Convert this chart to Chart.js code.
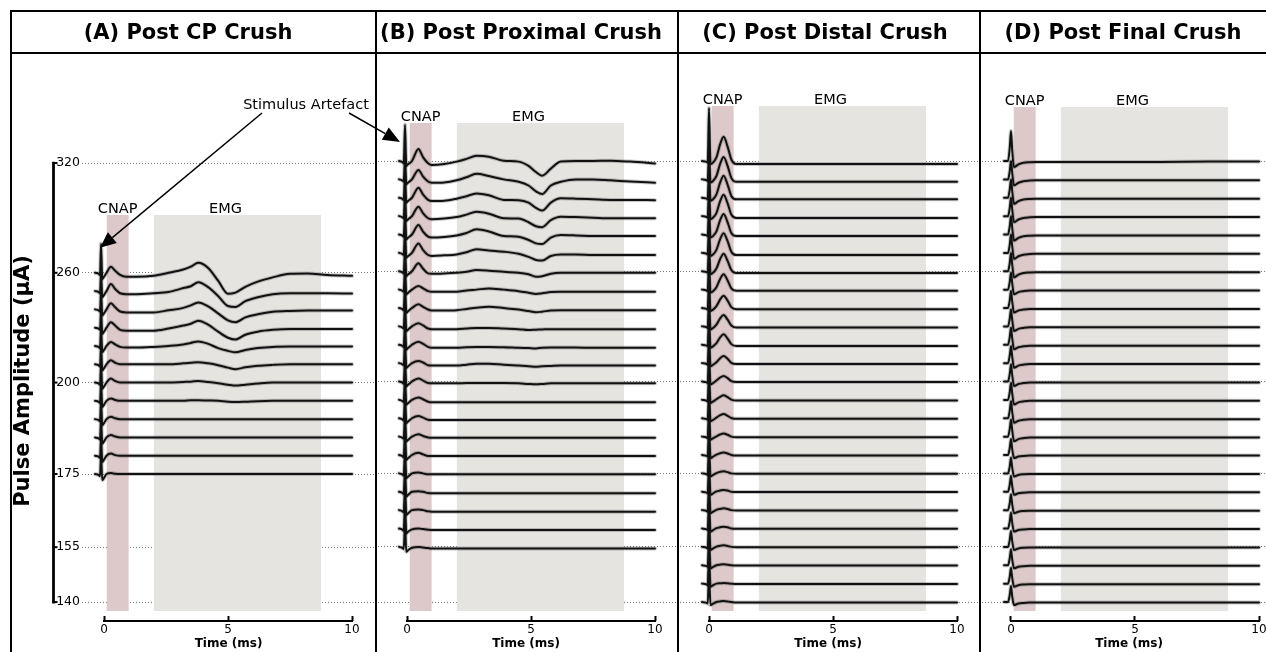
<!DOCTYPE html>
<html><head><meta charset="utf-8">
<script src="https://cdn.jsdelivr.net/npm/chart.js@4.4.1/dist/chart.umd.min.js"></script>
<style>
html,body{margin:0;padding:0;background:#fff;}
body{width:1266px;height:652px;overflow:hidden;position:relative;font-family:'DejaVu Sans';}
canvas{position:absolute;display:block;}
.hl{position:absolute;height:2px;background:#000;z-index:5;}
.vl{position:absolute;width:2px;background:#000;z-index:5;}
.ttl{position:absolute;top:10px;height:43px;width:400px;font:bold 21px 'DejaVu Sans';line-height:44px;text-align:center;color:#000;z-index:6;white-space:nowrap;}
#ylab{position:absolute;left:22px;top:381px;transform:translate(-50%,-50%) rotate(-90deg);font:bold 21px 'DejaVu Sans';white-space:nowrap;color:#000;z-index:6;}
</style></head>
<body>
<canvas id="cA" width="365" height="599" style="left:10px;top:53px"></canvas>
<canvas id="cB" width="302" height="599" style="left:375px;top:53px"></canvas>
<canvas id="cC" width="302" height="599" style="left:677px;top:53px"></canvas>
<canvas id="cD" width="300" height="599" style="left:979px;top:53px"></canvas>
<canvas id="ov" width="1266" height="652" style="left:0;top:0;z-index:4;pointer-events:none"></canvas>
<div class="hl" style="left:10px;top:10px;width:1270px"></div>
<div class="hl" style="left:10px;top:52px;width:1270px"></div>
<div class="vl" style="left:10px;top:10px;height:650px"></div>
<div class="vl" style="left:375px;top:10px;height:650px"></div>
<div class="vl" style="left:677px;top:10px;height:650px"></div>
<div class="vl" style="left:979px;top:10px;height:650px"></div>
<div class="ttl" style="left:-12px">(A) Post CP Crush</div>
<div class="ttl" style="left:321px">(B) Post Proximal Crush</div>
<div class="ttl" style="left:625px">(C) Post Distal Crush</div>
<div class="ttl" style="left:923px">(D) Post Final Crush</div>
<div id="ylab">Pulse Amplitude (µA)</div>
<script>
// ---------------- DATA ----------------
// all stimulation pulse amplitudes (µA); traces are stacked one step apart
const amps = [140,145,150,155,160,165,170,175,180,185,190,195,200,210,220,230,240,250,260,270,280,290,300,310,320];
const STEP = 60; // µV between stacked traces
const yTickAmps = [140,155,175,200,260,320];
const yTickLabels = ['140','155','175','200','260','320'];
const xTicks = [0,5,10];
const cnapWindow = [0.1, 1.0];   // ms
const emgWindow = [2.0, 8.75];   // ms
const shadeBottom = -29;
const shadeTop = {A:1270, B:1564, C:1620, D:1616};
const cnapLabelT = 0.55, emgLabelT = 4.9;

// Panel A: Post CP Crush
const ampsA = [260,250,240,230,220,210,200,195,190,185,180,175];
const timeA = [-0.36,-0.22,-0.16,-0.12,-0.07,0.0,0.1,0.28,0.45,0.65,0.9,1.3,2.0,2.6,3.2,3.5,3.8,4.2,4.6,5.0,5.3,5.7,6.2,6.8,7.5,8.2,9.0,10.0];
const tracesA = [
 [0,-3,-7,95,-20,-13,0,20,7,-7,-13,-13,-10,0,11,20,33,16,-26,-69,-65,-46,-29,-15,-3,-2,-7,-10],
 [0,-3,-7,65,-20,-13,0,23,7,-7,-10,-10,-7,-3,10,16,29,13,-16,-49,-52,-33,-20,-10,-7,-7,-7,-8],
 [0,-3,-7,65,-20,-13,0,20,7,-7,-10,-10,-10,-3,5,13,23,10,-13,-36,-42,-26,-16,-8,-5,-4,-4,-4],
 [0,-3,-7,65,-20,-13,0,18,7,-7,-10,-10,-10,-3,7,13,23,10,-13,-33,-39,-23,-13,-7,-4,-4,-4,-4],
 [0,-3,-7,65,-20,-13,0,13,5,-3,-5,-5,-3,0,5,10,15,7,-7,-16,-21,-13,-7,-3,-2,-2,-2,-2],
 [0,-3,-7,65,-20,-13,0,13,5,0,0,0,0,0,3,5,7,3,-3,-11,-16,-10,-5,-2,0,0,0,0],
 [0,-3,-7,65,-20,-13,0,13,5,0,0,0,0,0,2,3,5,2,-2,-7,-10,-7,-3,0,0,0,0,0],
 [0,-3,-7,65,-20,-13,0,8,3,0,0,0,0,0,0,2,2,1,0,-3,-4,-3,-1,0,0,0,0,0],
 [0,-3,-7,65,-20,-13,0,8,3,0,0,0,0,0,0,0,0,0,0,0,0,0,0,0,0,0,0,0],
 [0,-3,-7,65,-20,-13,0,8,3,0,0,0,0,0,0,0,0,0,0,0,0,0,0,0,0,0,0,0],
 [0,-3,-7,65,-20,-13,0,7,2,0,0,0,0,0,0,0,0,0,0,0,0,0,0,0,0,0,0,0],
 [0,-3,-7,65,-20,-13,0,3,1,0,0,0,0,0,0,0,0,0,0,0,0,0,0,0,0,0,0,0]
];

// Panel B: Post Proximal Crush
const ampsB = [320,310,300,290,280,270,260,250,240,230,220,210,200,195,190,185,180,175,170,165,160,155];
const timeB = [-0.32,-0.2,-0.13,-0.08,-0.03,0.05,0.2,0.46,0.65,0.85,1.0,1.5,2.0,2.4,2.8,3.3,3.9,4.5,4.9,5.2,5.45,5.8,6.2,6.8,7.5,8.2,9.0,10.0];
const tracesB = [
 [0,-3,-7,118,-16,-10,0,39,12,-7,-13,-10,-2,7,17,14,1,-2,-16,-36,-48,-25,-2,0,0,1,-2,-8],
 [0,-3,-7,82,-16,-10,0,31,9,-7,-11,-10,-3,7,18,11,0,-8,-20,-39,-48,-20,-8,0,0,-3,-7,-11],
 [0,-3,-7,82,-16,-10,0,33,10,-7,-11,-10,-3,5,14,8,-7,-8,-16,-33,-42,-16,-2,-3,-5,-7,-7,-8],
 [0,-3,-7,82,-16,-10,0,31,9,-7,-10,-8,-3,5,14,8,-7,-8,-20,-33,-36,-13,-2,-3,-5,-7,-7,-7],
 [0,-3,-7,82,-16,-10,0,31,9,-7,-10,-8,-3,5,17,10,-5,-7,-18,-29,-31,-10,-2,-3,-5,-5,-5,-5],
 [0,-3,-7,82,-16,-10,0,31,9,-7,-10,-8,-5,2,12,8,4,-3,-13,-23,-25,-10,-5,-5,-7,-7,-7,-7],
 [0,-3,-7,82,-16,-10,0,26,8,-7,-8,-7,-5,-2,4,2,-2,-5,-10,-18,-16,-8,-5,-5,-5,-5,-5,-5],
 [0,-3,-7,82,-16,-10,0,12,4,-5,-7,-7,-7,-3,0,4,0,-5,-10,-14,-12,-8,-7,-7,-7,-7,-7,-7],
 [0,-3,-7,82,-16,-10,0,12,4,-5,-8,-8,-7,-3,1,4,0,-5,-10,-14,-12,-8,-7,-7,-7,-7,-7,-7],
 [0,-3,-7,82,-16,-10,0,10,3,-7,-9,-9,-9,-7,-5,-5,-7,-9,-12,-11,-10,-9,-9,-9,-9,-9,-9,-9],
 [0,-3,-7,82,-16,-10,0,10,3,-7,-10,-10,-10,-8,-7,-7,-8,-10,-11,-12,-10,-9,-9,-9,-10,-10,-10,-10],
 [0,-3,-7,82,-16,-10,0,7,2,-7,-8,-8,-8,-5,-2,-2,-5,-8,-10,-12,-10,-9,-8,-8,-8,-8,-8,-8],
 [0,-3,-7,82,-16,-10,0,10,3,-5,-6,-6,-6,-5,-5,-5,-5,-6,-8,-9,-8,-6,-6,-6,-6,-6,-6,-6],
 [0,-3,-7,82,-16,-10,0,8,2,-6,-8,-8,-8,-8,-8,-8,-8,-8,-8,-8,-8,-8,-8,-8,-8,-8,-8,-8],
 [0,-3,-7,82,-16,-10,0,7,2,-5,-6,-6,-6,-6,-6,-6,-6,-6,-6,-6,-6,-6,-6,-6,-6,-6,-6,-6],
 [0,-3,-7,82,-16,-10,0,8,2,-3,-4,-4,-4,-4,-4,-4,-4,-4,-4,-4,-4,-4,-4,-4,-4,-4,-4,-4],
 [0,-3,-7,82,-16,-10,0,7,2,-3,-3,-3,-3,-3,-3,-3,-3,-3,-3,-3,-3,-3,-3,-3,-3,-3,-3,-3],
 [0,-3,-7,82,-16,-10,0,3,0,-3,-3,-3,-3,-3,-3,-3,-3,-3,-3,-3,-3,-3,-3,-3,-3,-3,-3,-3],
 [0,-3,-7,82,-16,-10,0,2,0,-4,-5,-5,-5,-5,-5,-5,-5,-5,-5,-5,-5,-5,-5,-5,-5,-5,-5,-5],
 [0,-3,-7,82,-16,-10,0,2,0,-4,-5,-5,-5,-5,-5,-5,-5,-5,-5,-5,-5,-5,-5,-5,-5,-5,-5,-5],
 [0,-3,-7,82,-16,-10,-3,0,-2,-4,-5,-5,-5,-5,-5,-5,-5,-5,-5,-5,-5,-5,-5,-5,-5,-5,-5,-5],
 [0,-3,-7,82,-16,-10,-3,0,-2,-4,-5,-5,-5,-5,-5,-5,-5,-5,-5,-5,-5,-5,-5,-5,-5,-5,-5,-5]
];

// Panel C: Post Distal Crush
const ampsC = [320,310,300,290,280,270,260,250,240,230,220,210,200,195,190,185,180,175,170,165,160,155,150,145,140];
const timeC = [-0.28,-0.12,-0.05,0.0,0.06,0.15,0.3,0.45,0.59,0.75,0.9,1.1,1.4,2.0,4.0,6.0,8.0,10.0];
const tracesC = [
 [0,-2,-5,173,-10,-6,12,55,79,47,5,-10,-10,-10,-10,-10,-10,-10],
 [0,-2,-5,98,-10,-6,11,51,73,44,5,-8,-8,-8,-8,-8,-8,-8],
 [0,-2,-5,98,-10,-6,11,50,72,43,6,-5,-5,-5,-5,-5,-5,-5],
 [0,-2,-5,98,-10,-6,10,49,70,42,5,-6,-6,-6,-6,-6,-6,-6],
 [0,-2,-5,98,-10,-6,10,47,67,40,5,-5,-5,-5,-5,-5,-5,-5],
 [0,-2,-5,98,-10,-6,10,45,64,38,4,-7,-7,-7,-7,-7,-7,-7],
 [0,-2,-5,98,-10,-6,9,40,57,34,4,-6,-6,-6,-6,-6,-6,-6],
 [0,-2,-5,98,-10,-6,8,35,50,30,4,-4,-4,-4,-4,-4,-4,-4],
 [0,-2,-5,98,-10,-6,6,28,40,24,3,-4,-4,-4,-4,-4,-4,-4],
 [0,-2,-5,98,-10,-6,6,26,37,22,3,-4,-4,-4,-4,-4,-4,-4],
 [0,-2,-5,98,-10,-6,5,24,34,20,2,-4,-4,-4,-4,-4,-4,-4],
 [0,-2,-5,98,-10,-6,3,16,23,14,1,-3,-3,-3,-3,-3,-3,-3],
 [0,-2,-5,98,-10,-6,3,13,18,11,1,-2,-2,-2,-2,-2,-2,-2],
 [0,-2,-5,98,-10,-6,2,10,15,9,1,-2,-2,-2,-2,-2,-2,-2],
 [0,-2,-5,98,-10,-6,2,10,14,8,1,-2,-2,-2,-2,-2,-2,-2],
 [0,-2,-5,98,-10,-6,1,7,10,6,0,-2,-2,-2,-2,-2,-2,-2],
 [0,-2,-5,98,-10,-6,1,6,8,5,0,-2,-2,-2,-2,-2,-2,-2],
 [0,-2,-5,98,-10,-6,1,5,7,4,0,-1,-1,-1,-1,-1,-1,-1],
 [0,-2,-5,98,-10,-6,1,4,6,4,0,-1,-1,-1,-1,-1,-1,-1],
 [0,-2,-5,98,-10,-6,1,4,6,4,0,-1,-1,-1,-1,-1,-1,-1],
 [0,-2,-5,98,-10,-6,1,4,6,4,0,-1,-1,-1,-1,-1,-1,-1],
 [0,-2,-5,98,-10,-6,1,4,5,3,0,-1,-1,-1,-1,-1,-1,-1],
 [0,-2,-5,98,-10,-6,0,2,3,2,0,-1,-1,-1,-1,-1,-1,-1],
 [0,-2,-5,98,-10,-6,0,1,2,1,0,-1,-1,-1,-1,-1,-1,-1],
 [0,-2,-5,98,-10,-6,0,2,3,2,0,-2,-2,-2,-2,-2,-2,-2]
];

// Panel D: Post Final Crush
const ampsD = [320,310,300,290,280,270,260,250,240,230,220,210,200,195,190,185,180,175,170,165,160,155,150,145,140];
const timeD = [-0.28,-0.12,-0.05,0.0,0.05,0.12,0.3,0.5,0.75,1.0,1.4,2.0,4.0,6.0,8.0,10.0];
const tracesD = [
 [0,0,44,98,34,-20,-11,-6,-4,-3,-3,-3,-3,-3,-2,-2],
 [0,0,27,60,21,-20,-11,-6,-4,-3,-3,-3,-3,-3,-3,-3],
 [0,0,27,60,21,-20,-11,-6,-4,-3,-3,-3,-3,-3,-3,-3],
 [0,0,27,60,21,-20,-11,-6,-4,-3,-3,-3,-3,-3,-3,-3],
 [0,0,27,60,21,-20,-11,-6,-4,-3,-3,-3,-3,-3,-3,-3],
 [0,0,27,60,21,-20,-11,-6,-4,-3,-3,-3,-3,-3,-3,-3],
 [0,0,27,60,21,-20,-11,-6,-4,-3,-3,-3,-3,-3,-3,-3],
 [0,0,25,56,20,-15,-8,-5,-3,-3,-3,-3,-3,-3,-3,-3],
 [0,0,25,56,20,-15,-8,-5,-3,-3,-3,-3,-3,-3,-3,-3],
 [0,0,25,56,20,-15,-8,-5,-3,-3,-3,-3,-3,-3,-3,-3],
 [0,0,25,56,20,-15,-8,-5,-3,-3,-3,-3,-3,-3,-3,-3],
 [0,0,25,56,20,-15,-8,-5,-3,-3,-3,-3,-3,-3,-3,-3],
 [0,0,25,56,20,-15,-8,-5,-3,-3,-3,-3,-3,-3,-3,-3],
 [0,0,25,56,20,-15,-8,-5,-3,-3,-3,-3,-3,-3,-3,-3],
 [0,0,25,56,20,-15,-8,-5,-3,-3,-3,-3,-3,-3,-3,-3],
 [0,0,25,56,20,-15,-8,-5,-3,-3,-3,-3,-3,-3,-3,-3],
 [0,0,23,52,18,-10,-5,-3,-2,-2,-2,-2,-2,-2,-2,-2],
 [0,0,23,52,18,-10,-5,-3,-2,-2,-2,-2,-2,-2,-2,-2],
 [0,0,23,52,18,-10,-5,-3,-2,-2,-2,-2,-2,-2,-2,-2],
 [0,0,23,52,18,-10,-5,-3,-2,-2,-2,-2,-2,-2,-2,-2],
 [0,0,23,52,18,-10,-5,-3,-2,-2,-2,-2,-2,-2,-2,-2],
 [0,0,23,52,18,-10,-5,-3,-2,-2,-2,-2,-2,-2,-2,-2],
 [0,0,23,52,18,-10,-5,-3,-2,-2,-2,-2,-2,-2,-2,-2],
 [0,0,23,52,18,-10,-5,-3,-2,-2,-2,-2,-2,-2,-2,-2],
 [0,0,23,52,18,-10,-5,-3,-2,-2,-2,-2,-2,-2,-2,-2]
];

// annotation targets (data coords: ms, stacked µV)
const artefactA = {t:-0.16, v:1162};
const artefactB = {t:-0.28, v:1502};

// ---------------- LAYOUT / STYLE ----------------
const PX_PER_MS = 24.8;
const CANVAS_TOP = 53;
const PAD_TOP = 7, X_AXIS_H = 36;
const Y_MIN = -45.7, Y_MAX = 1769.8;
const PINK = 'rgb(222,201,202)';
const GREY = 'rgb(229,228,225)';
const TRACE = '#111';
const HALO = 'rgba(95,95,95,0.35)';
const FONT = "'DejaVu Sans'";

Chart.defaults.font.family = FONT;
Chart.defaults.color = '#000';

const offsetOf = a => amps.indexOf(a) * STEP;

function panelPlugin(p){
  return {
    id:'panel'+p.key,
    afterDraw(chart){
      const ctx = chart.ctx, xs = chart.scales.x, ys = chart.scales.y;
      ctx.save();
      ctx.font = '14.5px ' + FONT; ctx.fillStyle = '#000';
      ctx.textAlign = 'center'; ctx.textBaseline = 'alphabetic';
      const ty = ys.getPixelForValue(shadeTop[p.key]) - 2;
      ctx.fillText('CNAP', xs.getPixelForValue(cnapLabelT), ty);
      ctx.fillText('EMG', xs.getPixelForValue(emgLabelT), ty);
      ctx.strokeStyle = '#000'; ctx.lineWidth = 1.8; ctx.lineCap = 'butt';
      const sy = xs.top + 5;
      ctx.beginPath();
      ctx.moveTo(xs.getPixelForValue(xTicks[0]) - 1, sy);
      ctx.lineTo(xs.getPixelForValue(xTicks[xTicks.length-1]) + 1, sy);
      ctx.stroke();
      if (p.showY){
        const sx = 43.5;
        const top = ys.getPixelForValue(offsetOf(yTickAmps[yTickAmps.length-1]));
        const bot = ys.getPixelForValue(offsetOf(yTickAmps[0]));
        ctx.lineWidth = 2.8;
        ctx.beginPath(); ctx.moveTo(sx, top - 1.4); ctx.lineTo(sx, bot + 1.4); ctx.stroke();
        ctx.lineWidth = 2;
        yTickAmps.forEach(a => {
          const y = ys.getPixelForValue(offsetOf(a));
          ctx.beginPath(); ctx.moveTo(sx, y); ctx.lineTo(sx + 4, y); ctx.stroke();
        });
      }
      ctx.restore();
    }
  };
}

function makeChart(p){
  const datasets = [];
  p.traces.forEach((vals, k) => {
    const base = offsetOf(p.amps[k]);
    const pts = p.time.map((t, j) => ({x:t, y: base + vals[j]}));
    datasets.push({
      data: pts, borderColor: TRACE, borderWidth: 2, pointRadius: 0, fill: false,
      cubicInterpolationMode: 'monotone', borderJoinStyle: 'round', borderCapStyle: 'round', order: 0
    });
    datasets.push({
      data: pts, borderColor: HALO, borderWidth: 4, pointRadius: 0, fill: false,
      cubicInterpolationMode: 'monotone', borderJoinStyle: 'round', borderCapStyle: 'round', order: 1
    });
  });
  datasets.push({data:[{x:cnapWindow[0],y:shadeTop[p.key]},{x:cnapWindow[1],y:shadeTop[p.key]}],
    fill:{value:shadeBottom}, backgroundColor:PINK, borderWidth:0, pointRadius:0, order:5});
  datasets.push({data:[{x:emgWindow[0],y:shadeTop[p.key]},{x:emgWindow[1],y:shadeTop[p.key]}],
    fill:{value:shadeBottom}, backgroundColor:GREY, borderWidth:0, pointRadius:0, order:5});

  const x0 = p.x0 - p.left;
  const chartLeft = p.axisW;
  const xMin = (chartLeft - x0) / PX_PER_MS;
  const xMax = (p.width - x0) / PX_PER_MS;

  return new Chart(document.getElementById(p.id), {
    type: 'line',
    data: {datasets},
    options: {
      responsive: false, animation: false, events: [],
      layout: {padding: {top: PAD_TOP, left: 0, right: 0, bottom: 0}},
      plugins: {legend: {display: false}, tooltip: {enabled: false}},
      scales: {
        x: {
          type: 'linear', min: xMin, max: xMax,
          afterFit: s => { s.height = X_AXIS_H; },
          afterBuildTicks: s => { s.ticks = xTicks.map(v => ({value: v})); },
          ticks: {font: {size: 12}, color: '#000', padding: 2, maxRotation: 0, autoSkip: false},
          grid: {drawOnChartArea: false, drawTicks: true, tickLength: 5, tickWidth: 2, tickColor: '#000'},
          border: {display: false},
          title: {display: true, text: 'Time (ms)', font: {size: 12, weight: 'bold'}, color: '#000', padding: {top: 0, bottom: 1}}
        },
        y: {
          type: 'linear', min: Y_MIN, max: Y_MAX,
          afterFit: s => { s.width = p.axisW; },
          afterBuildTicks: s => { s.ticks = yTickAmps.map(a => ({value: offsetOf(a)})); },
          ticks: {display: p.showY, font: {size: 12.5}, color: '#000', padding: 2,
                  callback: (v, i) => yTickLabels[i]},
          grid: {color: '#7a7a7a', lineWidth: 1, drawTicks: false},
          border: {display: false, dash: [1, 2]}
        }
      }
    },
    plugins: [panelPlugin(p)]
  });
}

const panels = [
  {key:'A', id:'cA', left:10,  width:365, axisW:72, x0:104,  showY:true,  amps:ampsA, time:timeA, traces:tracesA},
  {key:'B', id:'cB', left:375, width:302, axisW:0,  x0:407,  showY:false, amps:ampsB, time:timeB, traces:tracesB},
  {key:'C', id:'cC', left:677, width:302, axisW:0,  x0:709,  showY:false, amps:ampsC, time:timeC, traces:tracesC},
  {key:'D', id:'cD', left:979, width:300, axisW:0,  x0:1011, showY:false, amps:ampsD, time:timeD, traces:tracesD}
];
const charts = {};
panels.forEach(p => { charts[p.key] = makeChart(p); });

// ---------------- ANNOTATION OVERLAY ----------------
function arrow(ctx, x1, y1, x2, y2, len, hw){
  const dx = x2 - x1, dy = y2 - y1, L = Math.hypot(dx, dy);
  const ux = dx / L, uy = dy / L;
  const bx = x2 - ux * len, by = y2 - uy * len;
  ctx.beginPath(); ctx.moveTo(x1, y1); ctx.lineTo(bx, by); ctx.stroke();
  ctx.beginPath();
  ctx.moveTo(x2, y2);
  ctx.lineTo(bx - uy * hw, by + ux * hw);
  ctx.lineTo(bx + uy * hw, by - ux * hw);
  ctx.closePath(); ctx.fill();
}
(function(){
  const ctx = document.getElementById('ov').getContext('2d');
  ctx.fillStyle = '#000'; ctx.strokeStyle = '#000'; ctx.lineWidth = 1.5;
  ctx.font = '14.5px ' + FONT; ctx.textAlign = 'center'; ctx.textBaseline = 'alphabetic';
  ctx.fillText('Stimulus Artefact', 306, 109);
  const pa = panels[0], pb = panels[1];
  const tA = {x: pa.left + charts.A.scales.x.getPixelForValue(artefactA.t), y: CANVAS_TOP + charts.A.scales.y.getPixelForValue(artefactA.v)};
  const tB = {x: pb.left + charts.B.scales.x.getPixelForValue(artefactB.t), y: CANVAS_TOP + charts.B.scales.y.getPixelForValue(artefactB.v)};
  arrow(ctx, 262, 113, tA.x, tA.y, 16, 7);
  arrow(ctx, 349, 113, tB.x, tB.y, 17, 7);
})();
</script>
</body></html>
